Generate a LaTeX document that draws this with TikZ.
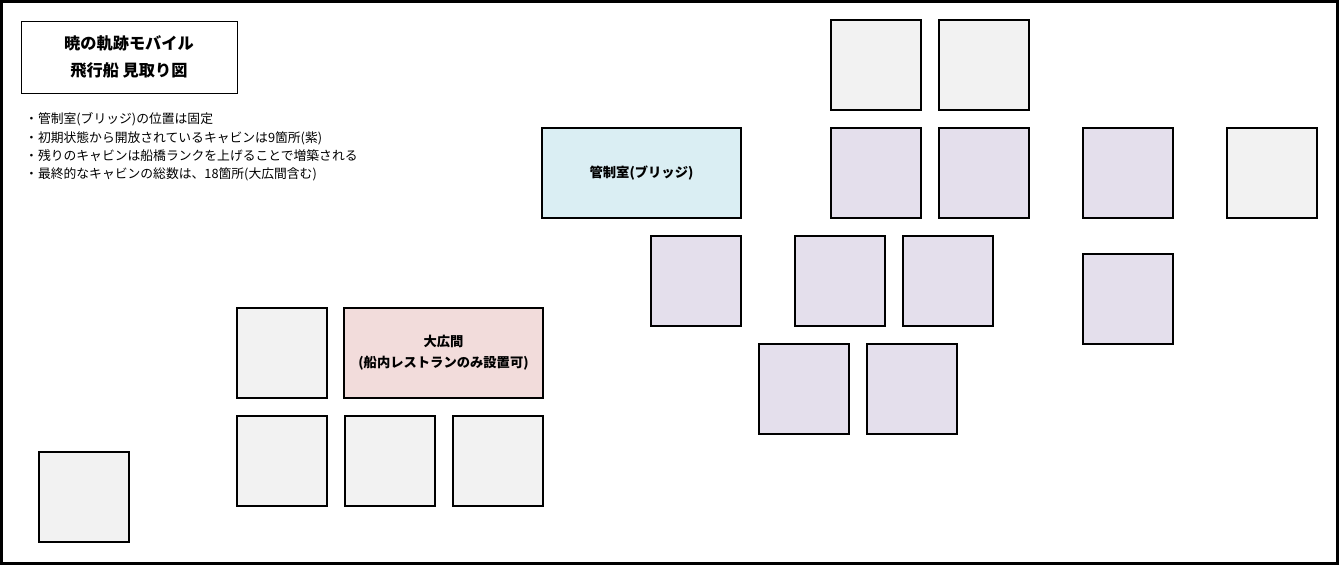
\documentclass[tikz,border=0pt]{standalone}
\usepackage{fontspec}
\setmainfont{Noto Sans CJK JP}
\newfontfamily\jp{Noto Sans CJK JP}
\usetikzlibrary{positioning}
\definecolor{cabingray}{HTML}{F2F2F2}
\definecolor{cabinpurple}{HTML}{E4DFEC}
\definecolor{bridgeblue}{HTML}{DAEEF3}
\definecolor{hallpink}{HTML}{F2DCDB}
\tikzset{room/.style={draw,line width=2pt, minimum width=90pt, minimum height=90pt, inner sep=0pt}}
\tikzset{spare/.style={room, fill=cabingray}}
\tikzset{open/.style={room, fill=cabinpurple}}
\tikzset{wide/.style={room, minimum width=199pt, font=\jp\bfseries\fontsize{13.3}{21}\selectfont, align=center}}

\begin{document}
\begin{tikzpicture}[x=1pt,y=-1pt]
\useasboundingbox (0,0) rectangle (1339,565);
\draw[line width=3pt] (1.5,1.5) rectangle (1337.5,563.5);

% title and notes
\node[draw, line width=1pt, minimum width=216pt, minimum height=72pt, align=center,
  font=\jp\bfseries\fontsize{16.2}{27}\selectfont] (title) at (129,57) {暁の軌跡モバイル\\飛行船 見取り図};
\node[anchor=west, inner sep=0pt, align=left, font=\jp\fontsize{12.8}{18.4}\selectfont] (notes) at (25,147)
  {・管制室(ブリッジ)の位置は固定\\
   ・初期状態から開放されているキャビンは9箇所(紫)\\
   ・残りのキャビンは船橋ランクを上げることで増築される\\
   ・最終的なキャビンの総数は、18箇所(大広間含む)};

\begin{scope}[on grid]
% bridge and upper cabins
\node[wide, fill=bridgeblue] (bridge) at (641.5,173) {管制室(ブリッジ)};
\node[open] (p1) at (876,173) {};
\node[open] (p2) [right = 108pt of p1] {};
\node[open] (p3) [right = 144pt of p2] {};
\node[spare] (g3) [right = 144pt of p3] {};
\node[spare] (g1) [above = 108pt of p1] {};
\node[spare] (g2) [above = 108pt of p2] {};
\node[open] (p7) [below = 126pt of p3] {};

% middle row
\node[open] (p4) at (696,281) {};
\node[open] (p5) [right = 144pt of p4] {};
\node[open] (p6) [right = 108pt of p5] {};
\node[open] (p8) at (804,389) {};
\node[open] (p9) [right = 108pt of p8] {};

% great hall
\node[wide, fill=hallpink] (hall) at (443.5,353) {大広間\\(船内レストランのみ設置可)};
\node[spare] (g4) at (282,353) {};
\node[spare] (g5) [below = 108pt of g4] {};
\node[spare] (g6) [right = 108pt of g5] {};
\node[spare] (g7) [right = 108pt of g6] {};
\node[spare] (g8) at (84,497) {};
\end{scope}
\end{tikzpicture}
\end{document}
